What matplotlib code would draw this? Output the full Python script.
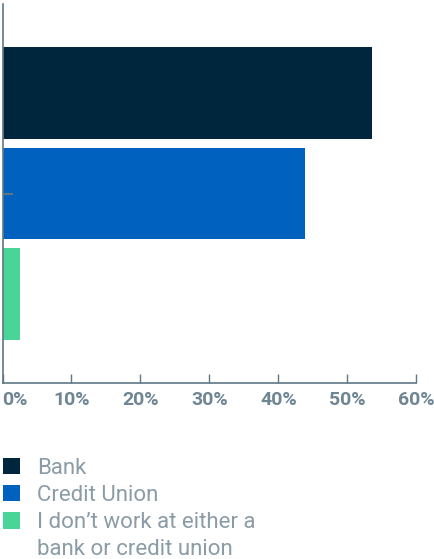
import numpy as np
import matplotlib.pyplot as plt
from matplotlib.patches import Patch

# Where do respondents work (share of responses, %)
categories = ["Bank", "Credit Union", "I don\u2019t work at either a\nbank or credit union"]
shares = [53.6, 43.9, 2.5]
colors = ["#00263e", "#0061bf", "#48d597"]
x_ticks = [0, 10, 20, 30, 40, 50, 60]
x_tick_labels = ["0%", "10%", "20%", "30%", "40%", "50%", "60%"]

axis_color = "#5f7886"
tick_text = "#6e8593"
legend_text = "#8b9ca7"

plt.rcParams['font.family'] = ['Roboto', 'DejaVu Sans']

fig = plt.figure(figsize=(4.34, 5.59), dpi=100)
ax = fig.add_axes([0.0058, 0.3148, 0.9535, 0.678])

pos = np.arange(len(categories))
ax.barh(pos, shares, height=0.91, color=colors, zorder=1)

ax.set_xlim(0, 60)
ax.set_ylim(2.88, -0.88)

ax.set_xticks(x_ticks)
ax.set_xticklabels(x_tick_labels, fontsize=14, fontweight='bold', color=tick_text)
ax.get_xticklabels()[0].set_horizontalalignment('left')
ax.tick_params(axis='x', direction='in', length=6.5, width=1, color=axis_color, pad=6)

# single inward tick on the y axis
ax.set_yticks([1])
ax.set_yticklabels([""])
ax.tick_params(axis='y', direction='in', length=7.5, width=1.5, color=axis_color)

for side in ['top', 'right']:
    ax.spines[side].set_visible(False)
for side in ['left', 'bottom']:
    ax.spines[side].set_color(axis_color)
    ax.spines[side].set_linewidth(1.2)

# legend: the long label wraps onto a second row with no swatch
labels = categories[:2] + categories[2].split("\n")
handles = [Patch(facecolor=c, edgecolor='none') for c in colors]
handles.append(Patch(facecolor='none', edgecolor='none'))
leg = fig.legend(handles, labels, loc='upper left', bbox_to_anchor=(0.007, 0.181),
                 frameon=False, fontsize=16, handlelength=0.75, handleheight=0.75,
                 handletextpad=0.8, labelspacing=0.28, borderaxespad=0, borderpad=0)
for t in leg.get_texts():
    t.set_color(legend_text)

fig.savefig("out.png", dpi=100)
